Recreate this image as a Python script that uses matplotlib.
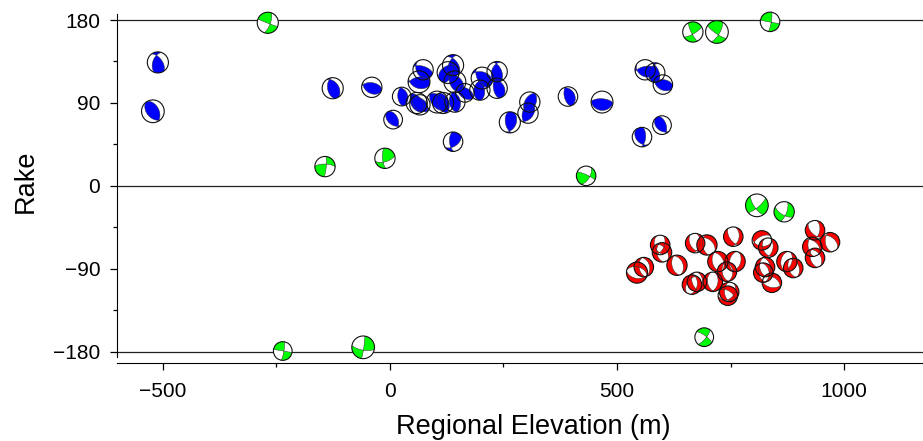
import numpy as np
import matplotlib
matplotlib.use('Agg')
import matplotlib.pyplot as plt
from matplotlib.patches import Circle
from matplotlib.transforms import Affine2D, ScaledTranslation
from matplotlib.ticker import MultipleLocator

plt.rcParams['font.family'] = ['Liberation Sans', 'DejaVu Sans']

# focal mechanisms: regional elevation (m), rake, strike, dip, magnitude
elev = [-511, -522, -126, -40, 7, 26, 73, 64, 59, 66, 104, 117, 139, 128, 143, 143,
        165, 203, 198, 236, 236, 308, 304, 264, 139, 392, 467, 562, 584, 601, 599, 555,
        544, 559, 595, 599, 632, 672, 698, 756, 722, 760, 742, 665, 676, 711, 747, 744,
        819, 833, 826, 822, 841, 874, 888, 936, 969, 930, 936,
        -269, -236, -59, -143, -11, 432, 667, 720, 837, 808, 868, 692]
rake = [134, 81, 106, 107, 72, 97, 126, 113, 90, 88, 91, 90, 131, 123, 113, 91,
        101, 117, 104, 124, 106, 91, 79, 69, 48, 97, 91, 126, 123, 110, 66, 53,
        -94, -88, -64, -72, -86, -62, -64, -55, -82, -82, -93, -107, -104, -104, -115, -119,
        -59, -67, -88, -94, -105, -82, -89, -48, -61, -66, -78,
        177, -179, -175, 21, 30, 11, 167, 167, 178, -21, -28, -164]
strike = [200, 140, 170, 120, 130, 175, 150, 110, 150, 130, 140, 160, 200, 240, 160, 170,
          130, 150, 190, 200, 170, 210, 200, 170, 175, 165, 95, 120, 200, 120, 130, 140,
          100, 170, 20, 170, 165, 10, 170, 10, 165, 20, 170, 10, 160, 170, 175, 90,
          100, 10, 170, 165, 100, 20, 160, 10, 170, 170, 165,
          20, 10, 100, 5, 175, 30, 60, 30, 10, 50, 20, 40]
dip = [50, 45, 50, 40, 45, 55, 35, 40, 45, 50, 50, 45, 55, 40, 50, 45,
       45, 55, 40, 45, 60, 50, 45, 55, 60, 60, 25, 35, 40, 45, 40, 40,
       45, 50, 55, 45, 50, 50, 55, 40, 45, 45, 50, 45, 50, 45, 50, 45,
       40, 50, 45, 50, 50, 50, 50, 50, 50, 55, 50,
       70, 80, 70, 80, 70, 60, 75, 70, 80, 75, 70, 75]
mag = [4.2, 4.4, 4.2, 4.1, 3.9, 3.9, 4.1, 4.3, 4.2, 4.1, 4.3, 4.2, 4.2, 4.3, 4.3, 4.1,
       3.9, 4.3, 4.1, 4.1, 4.1, 4.1, 4.1, 4.2, 4.0, 4.0, 4.3, 4.1, 4.0, 4.0, 3.9, 4.0,
       4.2, 4.0, 4.0, 4.0, 4.1, 4.0, 4.1, 4.0, 4.1, 4.1, 4.0, 4.0, 4.0, 4.0, 4.0, 4.0,
       4.0, 4.0, 4.0, 4.0, 4.0, 4.1, 4.0, 4.0, 4.0, 4.0, 4.0,
       4.2, 3.9, 4.4, 4.1, 4.1, 4.0, 4.1, 4.4, 4.0, 4.4, 4.1, 3.9]

fig = plt.figure(figsize=(9.23, 4.41), dpi=100)
ax = fig.add_axes([117 / 923, 78 / 441, (949 - 117) / 923, (441 - 78) / 441])

for yl in [180, 0, -180]:
    ax.axhline(yl, color='#222222', lw=0.9, zorder=1)

# grid on the unit disk (lower hemisphere, equal area)
g = np.linspace(-1.05, 1.05, 81)
U, V = np.meshgrid(g, g)
R = np.minimum(np.hypot(U, V), 1.0)
th = 2 * np.arcsin(R / np.sqrt(2))
az = np.arctan2(U, V)
xn = np.sin(th) * np.cos(az)
xe = np.sin(th) * np.sin(az)
xd = np.cos(th)


def beachball(x, y, st, dp, rk, color, diam, z):
    f, d, l = np.radians([st, dp, rk])
    n = (-np.sin(d) * np.sin(f), np.sin(d) * np.cos(f), -np.cos(d))
    s = (np.cos(l) * np.cos(f) + np.cos(d) * np.sin(l) * np.sin(f),
         np.cos(l) * np.sin(f) - np.cos(d) * np.sin(l) * np.cos(f),
         -np.sin(l) * np.sin(d))
    Z = (xn * n[0] + xe * n[1] + xd * n[2]) * (xn * s[0] + xe * s[1] + xd * s[2])
    r = diam / 2 / fig.dpi
    tr = Affine2D().scale(r) + fig.dpi_scale_trans + ScaledTranslation(x, y, ax.transData)
    bg = Circle((0, 0), 1, transform=tr, fc='white', ec='none', zorder=z)
    ax.add_patch(bg)
    if Z.max() > 0:
        cf = ax.contourf(U, V, Z, levels=[0, Z.max() + 1], colors=[color],
                         antialiased=True, transform=tr, zorder=z + 0.1)
        cf.set_clip_path(bg)
        cl = ax.contour(U, V, Z, levels=[0], colors='#333333', linewidths=0.35,
                        transform=tr, zorder=z + 0.2)
        cl.set_clip_path(bg)
    ax.add_patch(Circle((0, 0), 1, transform=tr, fc='none', ec='#111111', lw=0.8,
                        zorder=z + 0.3))


for i, (e, rk, st, dp, m) in enumerate(zip(elev, rake, strike, dip, mag)):
    if 45 <= rk <= 135:
        col = '#0000FF'
    elif -135 <= rk <= -45:
        col = '#FF0000'
    else:
        col = '#00FF00'
    beachball(e, rk, st, dp, rk, col, 19.5 + (m - 4) * 8, 3 + i * 0.01)

ax.set_xlim(-601, 1231)
ax.set_ylim(-192, 201.7)

ax.spines['top'].set_visible(False)
ax.spines['right'].set_visible(False)
ax.spines['left'].set_bounds(-186, 186)

ax.xaxis.set_minor_locator(MultipleLocator(250))
ax.yaxis.set_minor_locator(MultipleLocator(45))
ax.set_yticks([-180, -90, 0, 90, 180])
ax.set_yticklabels(['\u2212180', '\u221290', '0', '90', '180'])
ax.set_xticks([-500, 0, 500, 1000])
ax.set_xticklabels(['\u2212500', '0', '500', '1000'])

ax.tick_params(which='major', direction='out', length=5, width=0.9, labelsize=15)
ax.tick_params(which='minor', direction='out', length=3, width=0.9)
ax.tick_params(axis='x', pad=9)
ax.tick_params(axis='y', pad=7)

ax.set_xlabel('Regional Elevation (m)', fontsize=19.5, labelpad=9)
ax.set_ylabel('Rake', fontsize=19.5, labelpad=10)

fig.savefig('out.png', dpi=100)
